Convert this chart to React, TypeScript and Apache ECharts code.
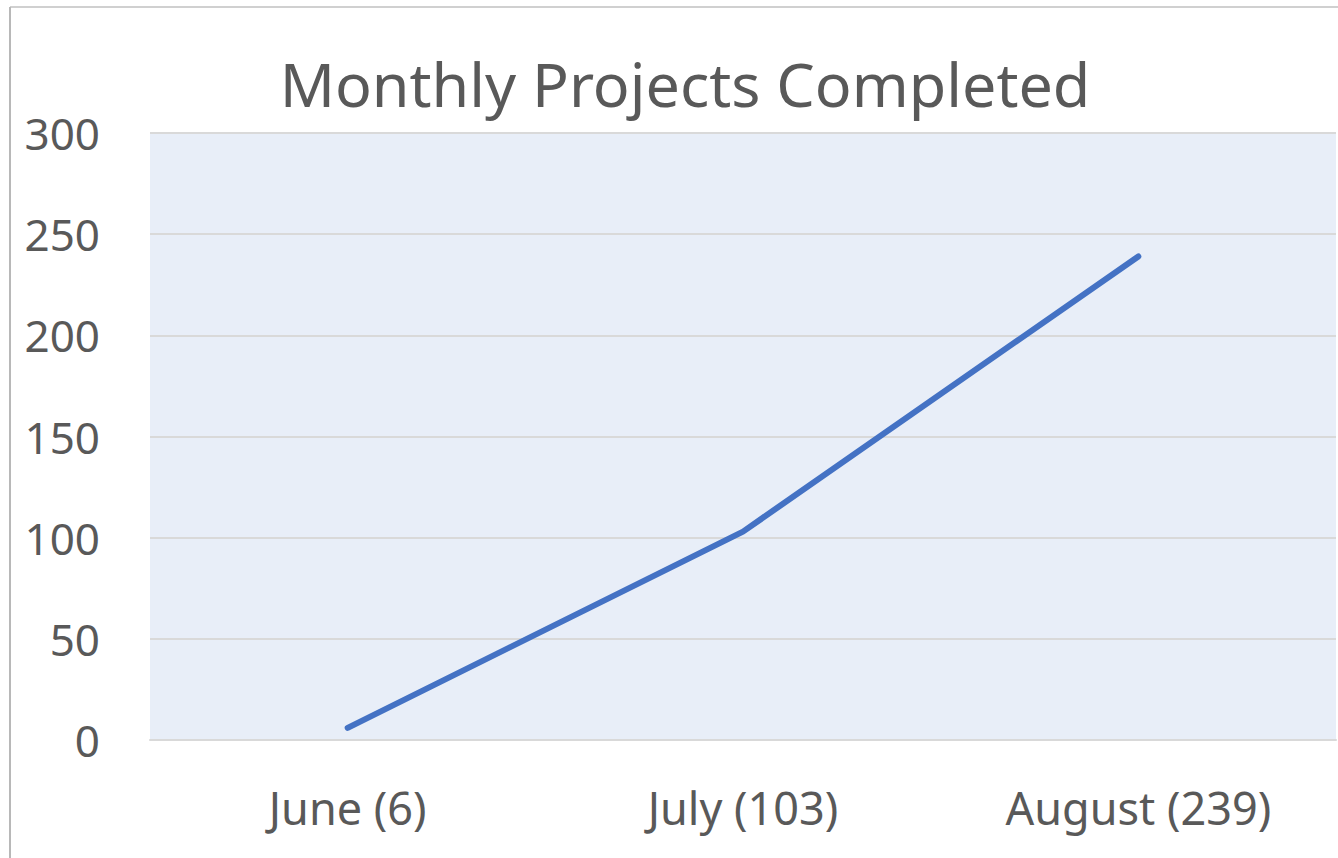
import React, { useEffect, useRef } from "react";
import * as echarts from "echarts";

const categories = ["June (6)", "July (103)", "August (239)"];
const projectsCompleted = [6, 103, 239];
const yTicks = { min: 0, max: 300, interval: 50 };
const titleText = "Monthly Projects Completed";

export default function App() {
  const ref = useRef<HTMLDivElement>(null);
  useEffect(() => {
    document.body.style.margin = "0";
    const chart = echarts.init(ref.current!, undefined, { renderer: "svg" });
    const font = "Noto Sans";
    chart.setOption({
      animation: false,
      backgroundColor: "#ffffff",
      title: {
        text: titleText,
        left: 680,
        textAlign: "center",
        top: 47,
        textStyle: { fontFamily: font, fontSize: 61, fontWeight: "normal", color: "#595959", lineHeight: 62 },
      },
      grid: {
        left: 150,
        right: 2,
        top: 133,
        bottom: 118,
        show: true,
        backgroundColor: "#E8EEF8",
        borderWidth: 0,
      },
      xAxis: {
        type: "category",
        data: categories,
        boundaryGap: true,
        axisLine: { show: true, lineStyle: { color: "#D9D9D9", width: 2 } },
        axisTick: { show: false },
        axisLabel: {
          fontFamily: font,
          fontSize: 45,
          color: "#595959",
          margin: 44,
          lineHeight: 46,
        },
      },
      yAxis: {
        type: "value",
        min: yTicks.min,
        max: yTicks.max,
        interval: yTicks.interval,
        axisLine: { show: false },
        axisTick: { show: false },
        splitLine: { show: true, lineStyle: { color: "#D9D9D9", width: 2 } },
        axisLabel: {
          fontFamily: font,
          fontSize: 44,
          color: "#595959",
          margin: 50,
        },
      },
      series: [
        {
          type: "line",
          data: projectsCompleted,
          showSymbol: false,
          symbol: "none",
          lineStyle: { color: "#4472C4", width: 6, cap: "round", join: "round" },
          itemStyle: { color: "#4472C4" },
        },
      ],
      graphic: [
        { type: "line", shape: { x1: 10, y1: 7, x2: 1338, y2: 7 }, style: { stroke: "#D0D0D0", lineWidth: 2 } },
        { type: "line", shape: { x1: 10, y1: 7, x2: 10, y2: 858 }, style: { stroke: "#B8B8B8", lineWidth: 2 } },
      ],
    });
    return () => chart.dispose();
  }, []);
  return <div ref={ref} style={{ position: "fixed", left: 0, top: 0, width: 1338, height: 858 }} />;
}
